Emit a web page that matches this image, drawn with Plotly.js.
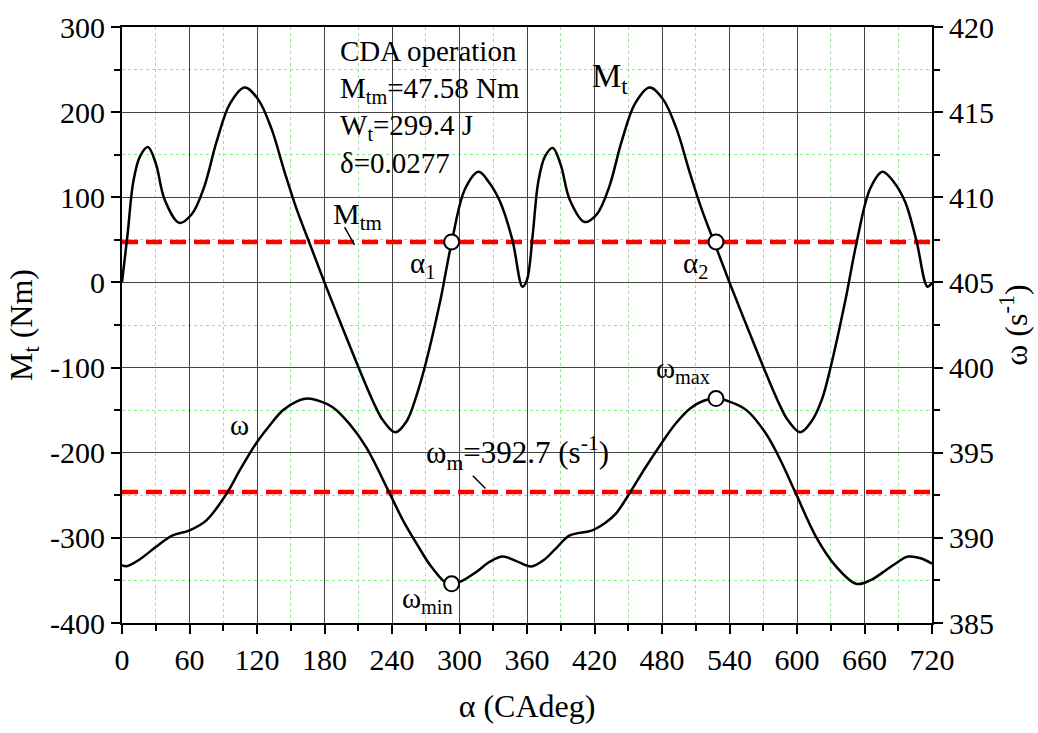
<!DOCTYPE html>
<html>
<head>
<meta charset="utf-8">
<script src="https://cdn.plot.ly/plotly-3.0.1.min.js"></script>
<style>html,body{margin:0;padding:0;background:#fff;}#chart{width:1038px;height:733px;}</style>
</head>
<body>
<div id="chart"></div>
<script>
// Crank angle (deg) and torque Mt (Nm)
const alphaMt = [0,5,10,16,23,30,38,51,62,73,84,96,109,121,133,144,155,167,180,195,210,225,232,243,253,262,270,283,293,305,317,326,336,347,356,
  360,365,370,376,383,390,398,411,422,433,444,456,469,481,493,504,515,527,540,555,570,585,592,603,613,622,630,643,653,665,676,686,696,706,716,720];
const Mt = [0,57,118,148,159,140,97,70,80,112,165,210,229,215,180,132,87,45,0,-50,-99,-145,-162,-176,-163,-132,-95,-21,47,110,130,118,95,50,-5,
  3,55,118,148,158,138,97,71,80,112,165,210,229,215,180,132,87,45,0,-50,-99,-145,-162,-176,-163,-138,-99,-21,47,110,130,118,95,50,-5,0];

// Crank angle (deg) and angular speed omega (1/s)
const alphaW = [0,4,15,30,45,60,75,93,105,119,130,143,155,165,177,187,202,217,238,250,262,275,289.6,300,315,327,338.5,350,363.7,
  375,386,398,418,430,439,451,465,479,492,505,517,528,540,555,572.6,585,599,617,635,652.6,665,679,690,698.5,710,720];
const omega = [388.4,388.33,388.7,389.46,390.14,390.44,391.03,392.6,394.0,395.53,396.5,397.49,398.0,398.18,398.0,397.69,396.71,395.33,392.6,391.0,389.65,388.3,387.3,387.4,388.0,388.6,388.9,388.65,388.32,
  388.7,389.4,390.14,390.44,390.9,391.42,392.6,394.1,395.5,396.7,397.6,398.05,398.18,398.0,397.5,396.1,394.6,392.6,390.05,388.3,387.3,387.5,388.1,388.6,388.9,388.8,388.48];

const MtMean = 47.58;
const omegaMean = 392.7;
const alphaRange = [0, 720];
const alpha12 = [293, 528];          // alpha1, alpha2
const omegaExt = [387.3, 398.18];    // omega_min, omega_max

const MtTicks = [-400,-300,-200,-100,0,100,200,300];
const MtTickText = ['-400','-300','-200','-100','0','100','200','300'];

const font = "Liberation Serif, Times New Roman, serif";

const traces = [
  {x: alphaRange, y: [MtMean, MtMean], mode: 'lines', line: {color: '#ff0000', width: 4.5, dash: '16px,8px'}, hoverinfo: 'skip'},
  {x: alphaRange, y: [omegaMean, omegaMean], yaxis: 'y2', mode: 'lines', line: {color: '#ff0000', width: 4.5, dash: '16px,8px'}, hoverinfo: 'skip'},
  {x: alphaMt, y: Mt, mode: 'lines', line: {color: '#000', width: 2.5, shape: 'spline', smoothing: 1}},
  {x: alphaW, y: omega, yaxis: 'y2', mode: 'lines', line: {color: '#000', width: 2.5, shape: 'spline', smoothing: 1}},
  {x: alpha12, y: [MtMean, MtMean], mode: 'markers', marker: {size: 15, color: '#fff', line: {color: '#000', width: 2}}},
  {x: alpha12, y: omegaExt, yaxis: 'y2', mode: 'markers', marker: {size: 15, color: '#fff', line: {color: '#000', width: 2}}}
];

const ann = (x, y, text, size) => ({x, y, xref: 'x', yref: 'y', text, showarrow: false, xanchor: 'left', yanchor: 'middle', font: {family: font, size: size || 29, color: '#000'}});

const layout = {
  width: 1038, height: 733,
  margin: {l: 122, r: 106, t: 27, b: 110},
  paper_bgcolor: '#fff', plot_bgcolor: '#fff',
  showlegend: false,
  font: {family: font, size: 30, color: '#000'},
  xaxis: {
    range: [0, 720], dtick: 60, tick0: 0,
    showgrid: true, gridcolor: '#444', gridwidth: 1,
    zeroline: false,
    showline: true, linecolor: '#000', linewidth: 2, mirror: true,
    ticks: 'outside', ticklen: 9, tickwidth: 2, tickcolor: '#000',
    tickfont: {family: font, size: 30},
    minor: {dtick: 30, showgrid: true, gridcolor: '#8fe98f', griddash: 'dot', gridwidth: 1, ticks: 'outside', ticklen: 6, tickwidth: 2, tickcolor: '#000'},
    title: {text: 'α (CAdeg)', font: {family: font, size: 32}, standoff: 20},
    automargin: false
  },
  yaxis: {
    range: [-400, 300], tickmode: 'array', tickvals: MtTicks, ticktext: MtTickText,
    showgrid: true, gridcolor: '#444', gridwidth: 1,
    zeroline: false,
    showline: true, linecolor: '#000', linewidth: 2,
    ticks: 'outside', ticklen: 9, tickwidth: 2, tickcolor: '#000',
    tickfont: {family: font, size: 30},
    minor: {dtick: 50, tickmode: 'linear', tick0: 0, showgrid: true, gridcolor: '#8fe98f', griddash: 'dot', gridwidth: 1, ticks: 'outside', ticklen: 6, tickwidth: 2, tickcolor: '#000'},
    title: {text: 'M<sub>t</sub> (Nm)', font: {family: font, size: 32}, standoff: 8},
    automargin: false
  },
  yaxis2: {
    overlaying: 'y', side: 'right',
    range: [385, 420], dtick: 5,
    showgrid: false, zeroline: false,
    showline: true, linecolor: '#000', linewidth: 2,
    ticks: 'outside', ticklen: 9, tickwidth: 2, tickcolor: '#000',
    tickfont: {family: font, size: 30},
    minor: {dtick: 2.5, showgrid: false, ticks: 'outside', ticklen: 6, tickwidth: 2, tickcolor: '#000'},
    title: {text: 'ω (s<sup>-1</sup>)', font: {family: font, size: 32}, standoff: 6},
    automargin: false
  },
  annotations: [
    ann(192, 272, 'CDA operation'),
    ann(192, 226, 'M<sub>tm</sub>=47.58 Nm'),
    ann(192, 183, 'W<sub>t</sub>=299.4 J'),
    ann(192, 140, 'δ=0.0277'),
    ann(416, 240, 'M<sub>t</sub>', 33),
    ann(186, 78, 'M<sub>tm</sub>', 30),
    ann(254, 20, 'α<sub>1</sub>'),
    ann(497, 20, 'α<sub>2</sub>'),
    ann(94, -168, 'ω'),
    ann(268, -200, 'ω<sub>m</sub>=392.7 (s<sup>-1</sup>)', 31),
    ann(473, -103, 'ω<sub>max</sub>'),
    ann(247, -373, 'ω<sub>min</sub>')
  ],
  shapes: [
    {type: 'line', xref: 'x', yref: 'y', x0: 197.8, y0: 65, x1: 206.7, y1: 44, line: {color: '#000', width: 1.5}},
    {type: 'line', xref: 'x', yref: 'y', x0: 311.8, y0: -227, x1: 323.1, y1: -242, line: {color: '#000', width: 1.5}}
  ]
};

Plotly.newPlot('chart', traces, layout, {displayModeBar: false, staticPlot: true});
</script>
</body>
</html>
